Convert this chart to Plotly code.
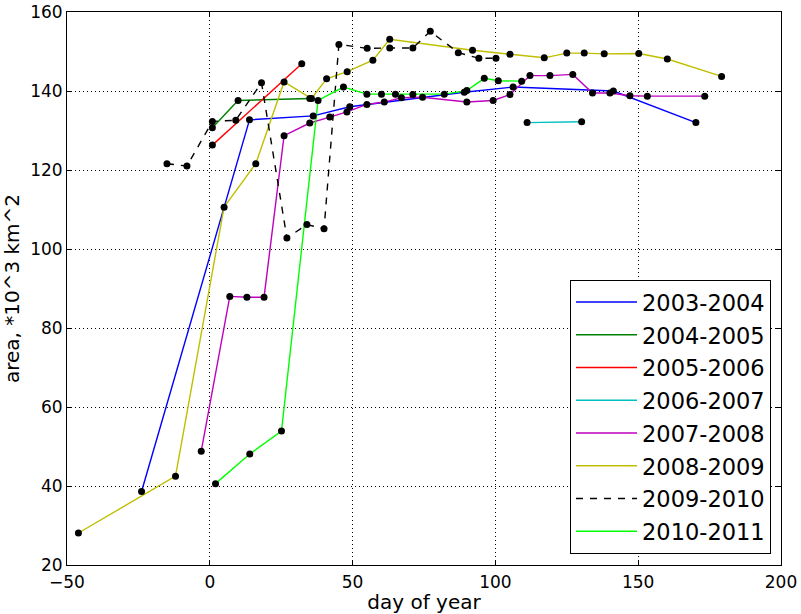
import plotly.graph_objects as go

names = ["2003-2004", "2004-2005", "2005-2006", "2006-2007",
         "2007-2008", "2008-2009", "2009-2010", "2010-2011"]
colors = ["#0000ff", "#008000", "#ff0000", "#00bfbf",
          "#bf00bf", "#bfbf00", "#000000", "#00ff00"]
dashes = ["solid"] * 6 + ["7px,7px"] + ["solid"]

x_0304 = [-23.9, 13.9, 36.2, 49.0, 89.1, 106.2, 141.3, 170.2]
y_0304 = [38.6, 132.7, 133.7, 136.0, 139.7, 141.0, 140.0, 132.0]

x_0405 = [0.9, 9.9, 35.0]
y_0405 = [130.7, 137.6, 138.1]

x_0506 = [0.9, 32.2]
y_0506 = [126.3, 146.9]

x_0607 = [111.1, 130.2]
y_0607 = [132.0, 132.2]

x_0708 = [-3.0, 7.0, 13.0, 19.0, 26.0, 35.0, 42.0, 48.0, 55.0, 61.1, 67.1, 74.5,
          90.0, 99.2, 105.1, 112.1, 119.1, 127.1, 134.0, 140.1, 147.1, 153.2, 173.3]
y_0708 = [48.8, 88.0, 87.8, 87.8, 128.7, 131.9, 133.4, 134.7, 136.6, 137.2, 138.3, 138.4,
          137.2, 137.6, 139.1, 143.9, 143.9, 144.2, 139.5, 139.5, 138.8, 138.7, 138.7]

x_0809 = [-46.0, -12.0, 5.0, 16.1, 26.0, 35.6, 40.9, 48.1, 57.1, 63.0, 92.0,
          105.1, 117.1, 125.0, 131.1, 138.1, 150.2, 160.2, 179.2]
y_0809 = [28.1, 42.5, 110.6, 121.6, 142.3, 138.1, 143.1, 144.9, 147.8, 153.1, 150.3,
          149.3, 148.4, 149.6, 149.6, 149.4, 149.5, 148.1, 143.7]

x_0910 = [-15.0, -8.0, 0.9, 9.1, 18.1, 27.0, 34.0, 40.0, 45.2, 55.1, 63.0, 71.1,
          77.2, 87.0, 94.2, 100.2]
y_0910 = [121.6, 121.0, 132.3, 132.6, 142.1, 102.8, 106.2, 105.1, 151.8, 150.8, 150.9,
          150.9, 155.1, 149.7, 148.3, 148.3]

x_1011 = [2.0, 14.0, 25.1, 37.9, 46.8, 55.0, 60.1, 65.0, 71.1, 82.1, 90.0, 96.1, 101.0, 109.2]
y_1011 = [40.6, 48.1, 53.9, 137.6, 141.0, 139.2, 139.2, 139.2, 139.1, 139.2, 140.1,
          143.2, 142.6, 142.5]

xs = [x_0304, x_0405, x_0506, x_0607, x_0708, x_0809, x_0910, x_1011]
ys = [y_0304, y_0405, y_0506, y_0607, y_0708, y_0809, y_0910, y_1011]

x_ticks = [-50, 0, 50, 100, 150, 200]
y_ticks = [20, 40, 60, 80, 100, 120, 140, 160]

fig = go.Figure()
for i in range(len(names)):
    fig.add_trace(go.Scatter(
        x=xs[i], y=ys[i], mode="lines", name=names[i],
        line=dict(color=colors[i], width=1.4, dash=dashes[i]),
        legendgroup=names[i], showlegend=True))
for i in range(len(names)):
    fig.add_trace(go.Scatter(
        x=xs[i], y=ys[i], mode="markers", showlegend=False,
        marker=dict(color="black", size=7), legendgroup=names[i]))

font = "DejaVu Sans, Verdana, sans-serif"
grid = dict(showgrid=True, gridcolor="black", griddash="1px,3px", gridwidth=1,
            showline=True, linecolor="black", linewidth=1, mirror="ticks",
            ticks="inside", ticklen=5, tickcolor="black", zeroline=False,
            automargin=False)
fig.update_layout(
    width=801, height=614,
    margin=dict(l=67, r=20, t=12, b=49),
    paper_bgcolor="white", plot_bgcolor="white",
    font=dict(family=font, size=17, color="black"),
    legend=dict(x=0.986, y=0.02, xanchor="right", yanchor="bottom",
                bgcolor="white", bordercolor="black", borderwidth=1,
                font=dict(size=22.5), tracegroupgap=0.5, itemwidth=61),
    xaxis=dict(range=[-50, 200], tickvals=x_ticks, ticklabelstandoff=2,
               title=dict(text="day of year", standoff=3), **grid),
    yaxis=dict(range=[20, 160], tickvals=y_ticks,
               title=dict(text="area, *10^3 km^2", standoff=6), **grid),
)
fig.write_html("out.html")
